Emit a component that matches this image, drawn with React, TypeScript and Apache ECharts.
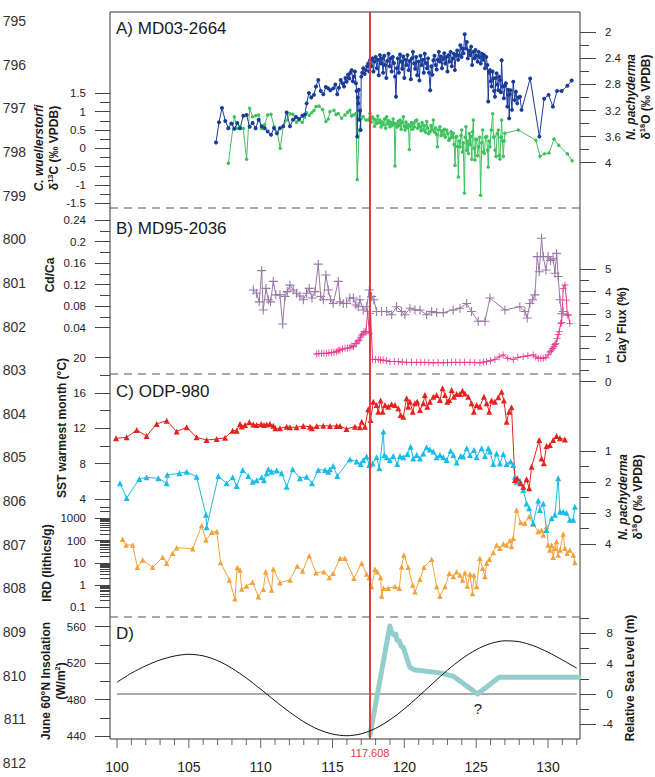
import React, { useEffect, useRef } from 'react';
import * as echarts from 'echarts';

// ---------------- data ----------------
const lineNumbers = ['795','796','797','798','799','800','801','802','803','804','805','806','807','808','809','810','811','812'];
const ageMajorTicks = [100, 105, 110, 115, 120, 125, 130];
const ageMinorTicks = [101,102,103,104,106,107,108,109,111,112,113,114,116,117,118,119,121,122,123,124,126,127,128,129,131,132];
const eventAge = 117.608;

const d13cTicks = [-1.5, -1, -0.5, 0, 0.5, 1, 1.5];
const d13cMinor = [-1.25, -0.75, -0.25, 0.25, 0.75, 1.25];
const d18oATicks = [2, 2.4, 2.8, 3.2, 3.6, 4];
const d18oAMinor = [2.2, 2.6, 3, 3.4, 3.8];
const cdcaTicks = [0.04, 0.08, 0.12, 0.16, 0.2, 0.24];
const cdcaMinor = [0.06, 0.1, 0.14, 0.18, 0.22];
const clayTicks = [0, 1, 2, 3, 4, 5];
const clayMinor = [0.5, 1.5, 2.5, 3.5, 4.5];
const sstTicks = [4, 8, 12, 16, 20];
const sstMinor = [6, 10, 14, 18];
const irdTicks = [0.1, 1, 10, 100, 1000];
const irdMinor = [0.2,0.3,0.4,0.5,0.6,0.7,0.8,0.9,2,3,4,5,6,7,8,9,20,30,40,50,60,70,80,90,200,300,400,500,600,700,800,900,2000,3000];
const d18oCTicks = [1, 2, 3, 4];
const d18oCMinor = [1.5, 2.5, 3.5];
const insolTicks = [440, 480, 520, 560];
const insolMinor = [460, 500, 540];
const rslTicks = [-4, 0, 4, 8];
const rslMinor = [-6, -2, 2, 6, 10];

// A) MD03-2664 N. pachyderma d18O
const pachyA = [
[106.89,3.69],[107.10,3.38],[107.31,3.16],[107.54,3.36],[107.75,3.47],[107.96,3.40],[108.17,3.48],[108.37,3.39],[108.56,3.47],[108.79,3.28],[109.02,3.27],[109.23,3.45],[109.44,3.39],[109.65,3.47],[109.86,3.34],[110.07,3.44],[110.28,3.47],[110.49,3.52],[110.72,3.57],[110.93,3.47],[111.13,3.55],[111.34,3.47],[111.57,3.44],[111.81,3.23],[112.04,3.44],[112.25,3.34],[112.46,3.30],[112.67,3.33],[112.90,3.28],[113.08,3.26],[113.20,3.09],[113.36,2.93],[113.52,3.00],[113.71,2.96],[113.85,2.83],[114.01,2.73],[114.18,2.90],[114.36,2.95],[114.54,2.84],[114.70,2.86],[114.85,2.89],[115.05,2.86],[115.20,2.80],[115.33,2.95],[115.45,2.85],[115.57,2.73],[115.70,2.78],[115.80,2.83],[115.90,2.70],[115.98,2.76],[116.08,2.65],[116.17,2.71],[116.25,2.62],[116.33,2.58],[116.42,2.75],[116.49,2.68],[116.56,2.60],[116.63,2.78],[116.68,2.90],[116.72,3.60],[116.76,3.00],[116.79,3.09],[116.83,2.88],[116.86,3.34],[116.92,3.20],[116.96,3.50],[117.00,2.68],[117.07,2.62],[117.14,2.55],[117.24,2.64],[117.33,2.58],[117.41,2.52],[117.49,2.48],[117.56,2.60],[117.61,2.43],
[117.70,2.52],[117.78,2.40],[117.85,2.60],[117.92,2.45],[118.00,2.38],[118.08,2.55],[118.15,2.42],[118.22,2.66],[118.30,2.35],[118.38,2.48],[118.45,2.40],[118.52,2.62],[118.60,2.36],[118.68,2.50],[118.75,2.70],[118.82,2.44],[118.90,2.33],[118.98,2.52],[119.05,2.40],[119.12,2.60],[119.20,2.38],[119.28,2.47],[119.35,2.68],[119.42,2.99],[119.48,2.55],[119.55,2.40],[119.62,2.62],[119.70,2.34],[119.78,2.45],[119.85,2.56],[119.92,2.37],[120.00,2.70],[120.08,2.42],[120.15,2.50],[120.22,2.35],[120.30,2.58],[120.38,2.44],[120.45,2.72],[120.52,2.40],[120.60,2.30],[120.68,2.48],[120.75,2.56],[120.82,2.38],[120.90,2.66],[120.98,2.45],[121.05,2.74],[121.12,2.36],[121.20,2.50],[121.28,2.42],[121.35,2.62],[121.42,2.33],[121.50,2.47],[121.58,2.55],[121.65,2.40],[121.72,2.62],[121.80,2.89],[121.88,2.52],[121.95,2.65],[122.02,2.43],[122.10,2.36],[122.18,2.50],[122.25,2.57],[122.32,2.42],[122.40,2.30],[122.48,2.45],[122.55,2.37],[122.62,2.55],[122.70,2.41],[122.78,2.32],[122.85,2.48],[122.92,2.38],[123.00,2.60],[123.08,2.35],[123.15,2.45],[123.22,2.30],[123.30,2.52],[123.38,2.40],[123.45,2.33],[123.52,2.58],[123.60,2.36],[123.68,2.28],[123.75,2.42],[123.82,2.35],[123.90,2.20],[123.98,2.38],[124.05,2.25],[124.12,2.32],[124.20,2.03],[124.28,2.25],[124.35,2.15],[124.42,2.40],[124.50,2.28],[124.58,2.35],[124.65,2.22],[124.72,2.50],[124.80,2.30],[124.88,2.40],[124.95,2.27],[125.02,2.36],[125.10,2.45],[125.18,2.30],[125.25,2.38],[125.32,2.48],[125.40,2.33],[125.48,2.42],[125.55,2.35],[125.62,2.55],[125.70,2.38],[125.78,2.50],
[125.84,3.06],[125.90,2.62],[125.96,2.58],[126.02,2.75],[126.08,2.83],[126.14,2.60],[126.19,2.71],[126.25,2.90],[126.31,2.99],[126.37,2.70],[126.42,2.63],[126.48,2.80],[126.54,2.89],[126.60,2.68],[126.66,2.73],[126.72,2.92],[126.77,2.43],[126.84,2.83],[126.93,3.01],[127.00,2.82],[127.07,2.78],[127.17,3.14],[127.22,2.88],[127.26,2.96],[127.30,3.32],[127.35,2.95],[127.40,2.89],[127.49,3.19],[127.58,2.76],[127.68,3.04],[127.77,2.91],[127.86,3.09],[127.95,3.00],[128.05,2.99],[128.16,3.19],[128.76,2.71],[129.40,3.60],[129.73,3.02],[130.04,2.96],[130.34,3.14],[130.63,2.90],[130.95,2.90],[131.35,2.82],[131.65,2.74]
];

// A) MD03-2664 C. wuellerstorfi d13C
const wuellA = [
[107.75,-0.41],[108.17,0.86],[108.37,0.54],[108.58,0.60],[108.79,0.54],[109.02,-0.30],[109.23,1.09],[109.44,0.86],[109.65,0.89],[109.86,0.91],[110.07,0.54],[110.28,0.64],[110.49,0.91],[110.72,0.93],[110.93,0.59],[111.15,0.45],[111.36,0.00],[111.57,0.59],[111.81,0.77],[112.04,0.94],[112.25,0.93],[112.50,0.71],[112.67,0.77],[112.90,0.71],[113.05,0.85],[113.20,0.97],[113.38,0.90],[113.55,0.97],[113.71,1.03],[113.85,1.14],[114.06,1.15],[114.31,1.06],[114.54,0.73],[114.70,0.80],[114.82,1.00],[115.10,1.04],[115.25,0.92],[115.40,0.95],[115.64,0.82],[115.87,0.91],[116.05,0.98],[116.21,1.04],[116.33,0.88],[116.45,0.91],[116.63,0.95],[116.72,-0.85],[116.86,0.50],[117.00,0.82],[117.14,0.86],[117.33,0.77],[117.49,0.77],
[117.61,0.95],[117.70,0.72],[117.78,0.85],[117.84,0.82],[117.92,0.60],[118.00,0.78],[118.07,0.68],[118.15,0.88],[118.22,0.70],[118.30,0.77],[118.38,0.58],[118.45,0.72],[118.54,0.64],[118.62,0.80],[118.70,0.55],[118.77,0.86],[118.85,0.66],[118.92,0.75],[119.00,0.59],[119.08,0.70],[119.15,0.62],[119.22,0.80],[119.30,0.68],[119.35,-0.48],[119.42,0.66],[119.50,0.58],[119.58,0.74],[119.65,0.62],[119.70,0.77],[119.78,0.52],[119.85,0.70],[119.93,0.86],[120.00,0.60],[120.05,0.50],[120.12,0.72],[120.20,0.56],[120.28,0.64],[120.35,-0.03],[120.42,0.60],[120.50,0.70],[120.57,0.52],[120.63,0.68],[120.70,0.58],[120.78,0.75],[120.86,0.77],[120.93,0.55],[121.00,0.66],[121.09,0.59],[121.16,0.48],[121.24,0.70],[121.32,0.50],[121.40,0.62],[121.48,0.44],[121.56,0.73],[121.63,0.55],[121.70,0.40],[121.79,0.45],[121.86,0.62],[121.94,0.50],[122.02,0.77],[122.10,0.44],[122.18,0.55],[122.25,0.38],[122.30,0.04],[122.38,0.50],[122.48,0.59],[122.55,0.35],[122.62,0.48],[122.71,0.36],[122.78,0.52],[122.86,0.30],[122.95,0.50],[123.02,0.40],[123.10,0.22],[123.18,0.27],[123.25,0.45],[123.33,0.30],[123.41,0.41],[123.47,0.10],[123.53,-0.46],[123.58,0.30],[123.64,0.32],[123.70,0.05],[123.76,-0.78],[123.82,0.20],[123.88,0.04],[123.94,0.35],[123.99,0.50],[124.05,-0.10],[124.10,0.15],[124.18,-1.22],[124.24,0.30],[124.29,0.59],[124.35,-0.05],[124.41,0.20],[124.46,-0.14],[124.52,0.40],[124.58,0.10],[124.62,0.32],[124.70,-0.30],[124.75,0.45],[124.80,0.77],[124.86,0.00],[124.92,-0.32],[124.98,0.25],[125.04,0.23],[125.10,-0.20],[125.17,0.04],[125.24,0.30],[125.31,-1.28],[125.38,0.15],[125.45,0.50],[125.51,-0.10],[125.57,-0.14],[125.65,0.30],[125.73,0.32],[125.79,-0.05],[125.84,-0.51],[125.90,0.20],[125.96,0.04],[126.05,0.50],[126.15,0.94],[126.21,0.30],[126.26,0.32],[126.32,-0.05],[126.38,-0.22],[126.46,0.40],[126.54,0.50],[126.60,-0.20],[126.66,-0.29],[126.72,0.30],[126.77,0.77],[126.83,0.20],[126.89,-0.22],[126.95,0.20],[127.00,0.41],[127.93,0.50],[129.16,0.22],[129.44,-0.22],[129.75,-0.15],[130.07,-0.13],[130.42,0.25],[130.75,0.08],[131.34,-0.15],[131.68,-0.34]
];

// B) MD95-2036 Cd/Ca
const cdcaB = [
[109.49,0.110],[109.72,0.104],[109.90,0.088],[110.07,0.146],[110.18,0.073],[110.37,0.113],[110.53,0.092],[110.69,0.088],[110.88,0.126],[111.06,0.101],[111.34,0.101],[111.53,0.047],[111.69,0.098],[111.85,0.107],[112.04,0.119],[112.27,0.110],[112.50,0.104],[112.73,0.099],[112.97,0.092],[113.20,0.104],[113.38,0.113],[113.57,0.095],[113.78,0.107],[114.01,0.158],[114.18,0.098],[114.36,0.092],[114.54,0.138],[114.71,0.110],[114.87,0.092],[115.05,0.085],[115.40,0.126],[115.52,0.088],[115.75,0.085],[115.98,0.085],[116.21,0.095],[116.45,0.095],[116.63,0.082],[116.79,0.079],[116.91,0.092],[117.14,0.073],[117.38,0.079],[117.56,0.110],[117.72,0.098],[117.88,0.092],[118.07,0.070],[118.42,0.070],[118.77,0.070],[119.12,0.064],[119.46,0.079],[119.81,0.070],[120.04,0.064],[120.39,0.076],[120.74,0.073],[121.09,0.073],[121.55,0.064],[121.90,0.070],[122.25,0.068],[122.71,0.068],[123.40,0.073],[123.87,0.076],[124.34,0.085],[124.68,0.070],[125.14,0.052],[125.61,0.052],[125.96,0.095],[127.00,0.073],[128.04,0.079],[128.39,0.070],[128.55,0.058],[128.74,0.085],[128.93,0.092],[129.09,0.101],[129.25,0.172],[129.39,0.144],[129.55,0.206],[129.67,0.172],[129.85,0.147],[130.01,0.172],[130.18,0.165],[130.36,0.168],[130.48,0.141],[130.60,0.178],[130.71,0.135],[130.83,0.092],[130.95,0.066],[131.06,0.070]
];

// B) MD95-2036 clay flux
const clayB = [
[113.90,1.23],[114.05,1.25],[114.24,1.26],[114.40,1.26],[114.59,1.26],[114.75,1.28],[114.94,1.30],[115.10,1.31],[115.29,1.33],[115.40,1.40],[115.52,1.40],[115.70,1.45],[115.87,1.48],[116.05,1.48],[116.21,1.51],[116.35,1.60],[116.45,1.55],[116.58,1.70],[116.68,1.70],[116.78,1.80],[116.86,1.85],[116.95,1.98],[117.03,2.07],[117.12,2.12],[117.19,2.22],[117.28,2.20],[117.33,2.22],[117.45,3.11],[117.56,2.15],[117.65,3.03],[117.79,0.99],[118.00,0.99],[118.19,0.99],[118.35,0.96],[118.53,0.96],[118.75,0.93],[119.00,0.89],[119.30,0.90],[119.58,0.89],[119.85,0.87],[120.16,0.86],[120.50,0.86],[120.86,0.86],[121.15,0.86],[121.43,0.86],[121.70,0.85],[122.01,0.84],[122.35,0.85],[122.71,0.84],[123.00,0.85],[123.29,0.86],[123.58,0.86],[123.87,0.86],[124.20,0.86],[124.57,0.86],[124.90,0.85],[125.26,0.84],[125.50,0.87],[125.73,0.89],[126.00,0.93],[126.30,0.99],[126.60,1.10],[126.88,1.19],[127.20,1.04],[127.58,0.99],[127.90,1.08],[128.27,1.11],[128.60,1.15],[128.97,1.19],[129.15,1.10],[129.32,1.04],[129.50,1.04],[129.67,1.04],[129.85,1.08],[130.01,1.19],[130.15,1.33],[130.25,1.40],[130.33,1.48],[130.41,1.55],[130.48,1.65],[130.55,1.70],[130.64,1.92],[130.71,2.10],[130.78,2.22],[130.88,2.59],[130.95,2.62],[131.06,4.14],[131.18,4.29],[131.29,3.62],[131.34,2.96],[131.41,2.96],[131.52,2.59]
];

// C) ODP-980 SST warmest month
const sstC = [
[99.93,10.87],[100.67,10.98],[101.37,11.81],[102.06,11.13],[102.76,12.50],[103.46,12.87],[104.15,11.63],[104.85,12.12],[105.54,10.98],[106.24,10.68],[106.94,10.79],[107.52,10.94],[108.05,11.74],[108.33,11.74],[108.56,12.50],[108.68,12.20],[108.91,12.38],[109.21,12.68],[109.49,12.45],[109.72,12.38],[110.04,12.50],[110.23,12.38],[110.42,12.45],[110.65,12.50],[110.88,12.30],[111.02,12.00],[111.34,12.00],[111.81,12.19],[112.04,12.12],[112.50,12.12],[112.97,12.26],[113.43,12.19],[113.57,12.00],[113.90,12.26],[114.36,12.30],[114.82,12.27],[115.29,12.27],[115.52,12.27],[115.98,11.93],[116.56,12.19],[116.91,12.12],[117.03,12.76],[117.26,12.19],[117.49,14.15],[117.65,12.95],[117.84,15.02],[118.07,14.65],[118.19,13.89],[118.35,15.14],[118.49,13.89],[118.65,14.65],[118.88,14.46],[119.11,14.72],[119.35,14.65],[119.58,14.27],[119.74,13.51],[119.93,13.32],[120.16,15.40],[120.27,14.46],[120.39,15.02],[120.58,13.89],[120.74,14.83],[120.90,15.02],[121.09,14.08],[121.32,14.83],[121.43,15.78],[121.60,14.46],[121.78,15.02],[122.02,15.59],[122.25,15.78],[122.48,15.21],[122.66,16.53],[122.83,15.78],[122.99,15.02],[123.13,15.21],[123.29,16.34],[123.45,15.59],[123.64,15.89],[123.87,15.89],[124.05,16.26],[124.22,15.96],[124.45,15.59],[124.68,14.83],[124.84,13.89],[125.03,14.65],[125.26,14.46],[125.54,15.59],[125.73,14.83],[125.91,13.89],[126.07,15.14],[126.30,15.02],[126.54,15.51],[126.77,16.15],[126.93,15.14],[127.12,12.76],[127.30,13.89],[127.46,14.38],[127.70,6.15],[127.86,6.34],[128.09,5.77],[128.28,5.40],[128.51,6.23],[128.69,5.21],[128.86,7.66],[129.39,10.68],[129.55,8.60],[129.71,8.04],[129.90,10.00],[130.13,10.12],[130.36,10.68],[130.59,11.13],[130.83,10.87],[131.18,10.75]
];

// C) ODP-980 N. pachyderma d18O
const pachyC = [
[100.21,2.04],[100.67,2.52],[101.55,1.90],[102.06,1.85],[102.88,1.88],[103.46,2.04],[103.50,1.77],[104.34,1.72],[104.85,1.67],[105.54,1.83],[106.19,3.06],[106.24,3.46],[107.05,1.81],[107.63,2.04],[108.05,1.85],[108.33,2.13],[108.75,1.61],[109.14,1.81],[109.44,1.99],[109.72,1.94],[110.07,1.85],[110.23,1.94],[110.42,1.72],[110.53,1.59],[110.76,1.67],[111.11,1.63],[111.46,1.72],[111.81,2.15],[112.23,1.59],[112.73,1.88],[113.20,1.83],[113.57,2.04],[114.01,1.61],[114.48,1.61],[114.71,1.67],[114.82,1.59],[115.05,1.48],[115.33,1.81],[116.21,1.27],[116.68,1.34],[116.96,1.42],[117.14,1.29],[117.37,1.18],[117.56,1.45],[117.79,1.40],[118.07,1.20],[118.26,1.56],[118.54,0.37],[118.61,1.13],[118.77,1.20],[119.00,1.29],[119.23,1.16],[119.51,1.42],[119.70,1.16],[119.93,1.20],[120.21,1.10],[120.44,0.86],[120.62,1.24],[120.86,1.13],[121.09,1.24],[121.32,1.08],[121.55,0.88],[121.78,0.95],[122.02,1.02],[122.25,1.20],[122.48,1.13],[122.71,1.20],[122.95,1.29],[123.22,0.99],[123.41,1.13],[123.64,1.37],[123.92,1.16],[124.10,1.18],[124.34,0.91],[124.57,1.13],[124.85,0.97],[125.03,1.20],[125.38,0.91],[125.61,1.16],[125.84,0.91],[125.96,1.02],[126.19,1.42],[126.42,1.08],[126.65,1.40],[126.89,1.10],[127.12,1.42],[127.40,1.34],[127.58,1.45],[127.70,1.83],[127.81,1.99],[128.05,1.96],[128.28,2.26],[128.51,2.69],[128.69,2.85],[128.97,3.33],[129.32,2.60],[129.44,2.90],[129.67,2.69],[129.90,3.55],[130.25,3.17],[130.48,3.06],[130.71,1.88],[130.83,2.96],[131.06,2.96],[131.29,2.99],[131.52,3.22],[131.76,3.22],[131.87,2.80]
];

// C) ODP-980 IRD (lithics/g)
const irdC = [
[100.39,114],[100.63,63],[101.09,63],[101.42,6.3],[101.79,13.4],[102.48,6.3],[103.18,17.7],[103.46,9.5],[103.87,26.8],[104.15,48],[105.27,43],[105.89,470],[106.19,106],[106.59,235],[106.94,252],[107.21,10.2],[107.82,1.7],[108.21,0.24],[108.37,6.1],[108.56,4.8],[108.68,0.67],[109.02,0.91],[109.44,1.33],[109.84,0.30],[110.18,0.64],[110.35,4.0],[110.76,0.60],[110.88,5.3],[111.34,1.28],[112.04,1.7],[112.55,7.2],[112.92,4.3],[113.38,21],[113.85,3.6],[114.40,4.0],[114.78,2.2],[115.05,3.4],[115.52,16],[115.87,16],[116.49,2.0],[117.03,9.5],[117.37,3.1],[117.56,2.2],[117.72,0.85],[117.96,5.1],[118.12,4.0],[118.35,2.2],[118.42,0.32],[118.54,0.71],[118.88,0.71],[119.35,0.85],[119.65,0.71],[119.81,6.7],[119.97,22.5],[120.27,6.3],[120.58,1.0],[120.74,0.50],[121.09,1.8],[121.37,6.3],[121.90,14.4],[122.25,0.85],[122.48,0.32],[122.83,0.85],[123.13,3.4],[123.41,2.4],[123.64,4.0],[123.87,2.8],[124.05,1.7],[124.22,3.6],[124.38,0.91],[124.57,3.1],[124.75,0.42],[124.84,2.8],[125.03,0.85],[125.26,16],[125.45,5.7],[125.61,2.4],[125.73,9.5],[125.91,14.4],[126.19,28.7],[126.42,63.5],[126.65,45],[126.89,70.5],[127.12,63.5],[127.35,99.6],[127.46,53.5],[127.58,127],[127.81,2360],[128.09,643],[128.39,600],[128.69,1197],[128.97,560],[129.32,253],[129.55,300],[129.67,179],[129.90,425],[130.01,63.5],[130.13,37.8],[130.25,63.5],[130.36,17.7],[130.48,45],[130.59,89.7],[130.71,22.5],[130.83,37.8],[131.06,199],[131.18,45],[131.34,26.8],[131.52,37.8],[131.76,22.5],[131.87,10.2]
];

// D) June 60N insolation (W/m2)
const insolation = [
[100,499],[101,509],[102,517],[103,523.5],[104,527.8],[105,529.7],[106,528],[107,522.7],[108,514.4],[109,503.6],[110,491.4],[111,478.6],[112,466.4],[113,455.6],[114,447.3],[115,442.1],[116,440.3],[117,442.4],[118,448.4],[119,457.8],[120,469.8],[121,483.6],[122,498.1],[123,512.2],[124,524.7],[125,534.7],[126,541.5],[127,544.5],[128,543.5],[129,539],[130,532],[131,523.5],[132,514.5]
];

// D) relative sea level (m)
const seaLevel = [
[117.61,-5.4],[118.99,8.97],[119.10,8.2],[119.28,7.77],[119.40,7.9],[119.49,7.1],[119.65,7.0],[119.78,6.3],[119.93,6.13],[120.07,5.33],[120.37,3.55],[120.66,3.2],[121.5,3.0],[122.56,2.75],[123.44,2.31],[125.10,0.0],[126.60,2.2],[132.15,2.2]
];
const seaLevelZero = [[100, 0], [132, 0]];

// ---------------- layout ----------------
const W = 655, H = 777;
const GRID = { left: 110, right: 75, top: 12, bottom: 38 };
const GT = GRID.top, GB = H - GRID.bottom, GL = GRID.left, GR = W - GRID.right;
const FONT = '"Liberation Sans", Arial, Helvetica, sans-serif';
const TICK = '#444';
const LABEL = '#222';

// pixel anchors: [value1, pixel1, value2, pixel2]
const AX_AGE = [100, 117, 130, 548];
const AX = {
  d13c: [1.5, 93.3, -1.5, 203.3],
  d18oA: [2, 32.3, 4, 162.7],
  cdca: [0.24, 220, 0.04, 327.7],
  clay: [5, 269, 0, 381.7],
  sst: [20, 357.7, 4, 499],
  ird: [1000, 518.3, 0.1, 607.3],
  d18oC: [1, 451, 4, 544],
  insol: [560, 626.7, 440, 736],
  rsl: [8, 633.3, -4, 724.3],
};

function fitY(a: number[], log = false) {
  const [v1, p1, v2, p2] = a;
  const t = (v: number) => (log ? Math.log10(v) : v);
  const u = (x: number) => (log ? Math.pow(10, x) : x);
  const s = (t(v2) - t(v1)) / (p2 - p1);
  const top = t(v1) + (GT - p1) * s;
  const bot = t(v1) + (GB - p1) * s;
  return { min: u(Math.min(top, bot)), max: u(Math.max(top, bot)), inverse: top < bot };
}
function fitX(a: number[]) {
  const [v1, p1, v2, p2] = a;
  const s = (v2 - v1) / (p2 - p1);
  return { min: v1 + (GL - p1) * s, max: v1 + (GR - p1) * s };
}
const fmt = (v: number) => String(Number(Number(v).toPrecision(6)));

const yAxes: any[] = [];
function addPair(fit: any, position: string, majors: number[], minors: number[], log = false, labelExtra: any = {}) {
  const right = position === 'right';
  const base: any = {
    type: log ? 'log' : 'value', gridIndex: 0, position, offset: 0,
    min: fit.min, max: fit.max, inverse: fit.inverse,
    axisLine: { show: false, onZero: false }, splitLine: { show: false }, splitArea: { show: false },
    minorTick: { show: false }, minorSplitLine: { show: false },
  };
  if (log) base.logBase = 10;
  const idx = yAxes.length;
  yAxes.push({
    ...base,
    axisTick: { show: true, customValues: majors, length: right ? 16 : 15, lineStyle: { color: TICK, width: 1 } },
    axisLabel: { show: true, customValues: majors, margin: right ? 25 : 24, fontSize: 11.5, color: LABEL, fontFamily: FONT, formatter: fmt, ...labelExtra },
  });
  yAxes.push({
    ...base,
    axisTick: { show: true, customValues: minors, length: right ? 9 : 10, lineStyle: { color: TICK, width: 1 } },
    axisLabel: { show: false },
  });
  return idx;
}

// line-number axis in its own grid
yAxes.push({
  type: 'category', gridIndex: 1, data: lineNumbers, inverse: true, boundaryGap: false, position: 'left',
  axisLine: { show: false, onZero: false }, axisTick: { show: false }, splitLine: { show: false },
  axisLabel: { show: true, interval: 0, margin: 5, fontSize: 14, color: '#333', fontFamily: FONT },
});
const iD13c = addPair(fitY(AX.d13c), 'left', d13cTicks, d13cMinor);
const iD18oA = addPair(fitY(AX.d18oA), 'right', d18oATicks, d18oAMinor);
const iCdca = addPair(fitY(AX.cdca), 'left', cdcaTicks, cdcaMinor);
const iClay = addPair(fitY(AX.clay), 'right', clayTicks, clayMinor);
const iSst = addPair(fitY(AX.sst), 'left', sstTicks, sstMinor);
const iIrd = addPair(fitY(AX.ird, true), 'left', irdTicks, irdMinor, true);
const iD18oC = addPair(fitY(AX.d18oC), 'right', d18oCTicks, d18oCMinor);
const insolFit = fitY(AX.insol);
const iInsol = addPair(insolFit, 'left', insolTicks, insolMinor);
const iRsl = addPair(fitY(AX.rsl), 'right', rslTicks, rslMinor, false, { align: 'right', margin: 33 });

const ageFit = fitX(AX_AGE);
const xAxes: any[] = [
  {
    type: 'value', gridIndex: 0, position: 'bottom', min: ageFit.min, max: ageFit.max,
    axisLine: { show: false, onZero: false }, splitLine: { show: false },
    axisTick: { show: false },
    axisLabel: { show: true, customValues: ageMajorTicks, margin: 21, fontSize: 14, color: LABEL, fontFamily: FONT, formatter: fmt },
  },
  { type: 'value', gridIndex: 1, show: false, min: 0, max: 1, axisLine: { onZero: false } },
];

const PLUS = 'path://M4.4,0H5.6V4.4H10V5.6H5.6V10H4.4V5.6H0V4.4H4.4Z';

function lineSeries(name: string, data: any, yAxisIndex: number, color: string, symbol: string, symbolSize: number, extra: any = {}) {
  return {
    name, type: 'line', xAxisIndex: 0, yAxisIndex, data, color,
    symbol, symbolSize, showSymbol: symbol !== 'none',
    lineStyle: { color, width: 1 }, itemStyle: { color },
    emphasis: { disabled: true }, silent: true,
    ...extra,
  };
}
// x-axis tick marks hanging below the frame, placed through the age scale
function ageTickSeries(values: number[], len: number) {
  return {
    type: 'scatter', xAxisIndex: 0, yAxisIndex: iInsol, silent: true, clip: false, z: 5,
    data: values.map((v) => [v, insolFit.min]),
    symbol: 'rect', symbolSize: [1, len], symbolOffset: [0, len / 2],
    itemStyle: { color: TICK }, emphasis: { disabled: true },
  };
}

const title = (x: number, y: number, text: string) => ({
  type: 'text', x, y, rotation: Math.PI / 2, silent: true,
  style: {
    text, align: 'center', verticalAlign: 'middle', fill: '#1a1a1a',
    fontFamily: FONT, fontSize: 12, fontWeight: 'bold',
    rich: {
      b: { fontFamily: FONT, fontSize: 12, fontWeight: 'bold', fill: '#1a1a1a', lineHeight: 15 },
      bi: { fontFamily: FONT, fontSize: 12, fontWeight: 'bold', fontStyle: 'italic', fill: '#1a1a1a', lineHeight: 15 },
      s: { fontFamily: FONT, fontSize: 7.5, fontWeight: 'bold', fill: '#1a1a1a', verticalAlign: 'top', lineHeight: 15 },
    },
  },
});
const heading = (x: number, y: number, text: string) => ({
  type: 'text', x, y, silent: true,
  style: { text, align: 'left', verticalAlign: 'middle', fill: '#1a1a1a', fontFamily: FONT, fontSize: 17 },
});
const dashed = (y: number) => ({
  type: 'line', silent: true, z: 1,
  shape: { x1: GL, y1: y, x2: GR, y2: y },
  style: { stroke: '#555', lineWidth: 1.2, lineDash: [8, 6] },
});

const option: any = {
  animation: false,
  backgroundColor: '#fff',
  textStyle: { fontFamily: FONT },
  grid: [
    { ...GRID, show: true, borderColor: '#333', borderWidth: 1, backgroundColor: 'transparent', containLabel: false, outerBoundsMode: 'none' },
    { left: 31, width: 1, top: 21, bottom: 14, show: false, containLabel: false, outerBoundsMode: 'none' },
  ],
  xAxis: xAxes,
  yAxis: yAxes,
  graphic: [
    dashed(208), dashed(374), dashed(617),
    heading(116, 28, 'A) MD03-2664'),
    heading(116, 228, 'B) MD95-2036'),
    heading(116, 391, 'C) ODP-980'),
    heading(116, 633, 'D)'),
    title(46.5, 148, '{bi|C. wuellerstorfi}\n{b|δ}{s|13}{b|C (‰ VPDB)}'),
    title(638.5, 97, '{bi|N. pachyderma}\n{b|δ}{s|18}{b|O (‰ VPDB)}'),
    title(50, 275, '{b|Cd/Ca}'),
    title(622, 325, '{b|Clay Flux (%)}'),
    title(62, 428, '{b|SST warmest month (°C)}'),
    title(47, 563, '{b|IRD (lithics/g)}'),
    title(630.5, 497, '{bi|N. pachyderma}\n{b|δ}{s|18}{b|O (‰ VPDB)}'),
    title(53.5, 681, '{b|June 60°N Insolation}\n{b|(W/m}{s|2}{b|)}'),
    title(630, 678, '{b|Relative Sea Level (m)}'),
    { type: 'text', x: 478, y: 708, silent: true, style: { text: '?', align: 'center', verticalAlign: 'middle', fill: '#222', fontFamily: FONT, fontSize: 15 } },
  ],
  series: [
    lineSeries('C. wuellerstorfi d13C', wuellA, iD13c, '#3ec25f', 'circle', 3.5),
    lineSeries('N. pachyderma d18O A', pachyA, iD18oA, '#1a3c96', 'circle', 4),
    lineSeries('Cd/Ca', cdcaB, iCdca, '#9a77a6', PLUS, 9),
    lineSeries('Clay flux', clayB, iClay, '#e8388f', PLUS, 7),
    lineSeries('IRD', irdC, iIrd, '#f3a13c', 'triangle', 5.5),
    lineSeries('N. pachyderma d18O C', pachyC, iD18oC, '#19bbe9', 'triangle', 6),
    lineSeries('SST', sstC, iSst, '#e3241e', 'triangle', 6),
    lineSeries('Sea level zero', seaLevelZero, iRsl, '#aaaaaa', 'none', 0, { lineStyle: { color: '#aaaaaa', width: 2 } }),
    lineSeries('Relative sea level', seaLevel, iRsl, '#93cdcc', 'none', 0, { lineStyle: { color: '#93cdcc', width: 5, cap: 'round', join: 'round' } }),
    ageTickSeries(ageMajorTicks, 9),
    ageTickSeries(ageMinorTicks, 6),
    lineSeries('Insolation', insolation, iInsol, '#111', 'none', 0, {
      smooth: 0.3, z: 10,
      lineStyle: { color: '#111', width: 1 },
      markLine: {
        silent: true, symbol: ['none', 'none'], animation: false,
        lineStyle: { color: '#e63a3a', width: 2, type: 'solid' },
        label: { show: true, position: 'start', formatter: String(eventAge), color: '#e63a3a', fontSize: 11, fontFamily: FONT, distance: 8 },
        emphasis: { disabled: true },
        data: [{ xAxis: eventAge }],
      },
    }),
  ],
};

export default function App() {
  const ref = useRef<HTMLDivElement>(null);
  useEffect(() => {
    const chart = echarts.init(ref.current as HTMLDivElement, null, { renderer: 'svg', width: W, height: H });
    chart.setOption(option);
    return () => chart.dispose();
  }, []);
  return <div ref={ref} style={{ position: 'absolute', left: 0, top: 0, width: W, height: H, background: '#fff' }} />;
}
